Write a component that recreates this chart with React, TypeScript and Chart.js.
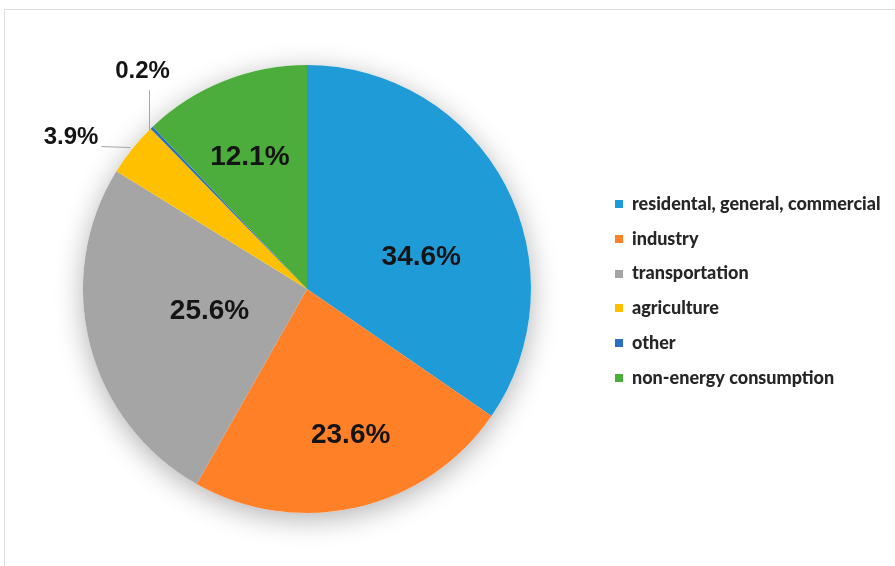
import React, { useEffect, useRef } from "react";
import { Chart, registerables } from "chart.js";

Chart.register(...registerables);

const categories = [
  "residental, general, commercial",
  "industry",
  "transportation",
  "agriculture",
  "other",
  "non-energy consumption",
];
const shares = [34.6, 23.6, 25.6, 3.9, 0.2, 12.1];
const sliceColors = ["#1F9BD7", "#FF8027", "#A5A5A5", "#FFC000", "#2A6EC2", "#4CAD3C"];

// label placement style (polar nudges relative to each slice's mid-angle)
const labelStyle = [
  { mode: "in", r: 0.53, da: 12 },
  { mode: "in", r: 0.68, da: -3.7 },
  { mode: "in", r: 0.446, da: 1.7 },
  { mode: "left", r: 1.01, da: 0 },
  { mode: "up", r: 1.0, da: -1 },
  { mode: "in", r: 0.64, da: -1.7 },
];

const framePlugin = {
  id: "frame",
  beforeDraw(chart: any) {
    const ctx = chart.ctx;
    ctx.save();
    ctx.fillStyle = "#ffffff";
    ctx.fillRect(0, 0, chart.width, chart.height);
    ctx.strokeStyle = "#dedede";
    ctx.lineWidth = 1;
    ctx.strokeRect(4.5, 9.5, chart.width + 20, chart.height + 20);
    ctx.restore();
  },
};

const shadowPlugin = {
  id: "pieShadow",
  beforeDatasetsDraw(chart: any) {
    const meta = chart.getDatasetMeta(0);
    const arc = meta.data[0];
    if (!arc) return;
    const ctx = chart.ctx;
    ctx.save();
    ctx.shadowColor = "rgba(0,0,0,0.3)";
    ctx.shadowBlur = 28;
    ctx.shadowOffsetY = 6;
    ctx.fillStyle = "#ffffff";
    ctx.beginPath();
    ctx.arc(arc.x, arc.y, arc.outerRadius, 0, Math.PI * 2);
    ctx.fill();
    ctx.restore();
  },
};

const labelPlugin = {
  id: "pctLabels",
  afterDatasetsDraw(chart: any) {
    const meta = chart.getDatasetMeta(0);
    const ctx = chart.ctx;
    const data = chart.data.datasets[0].data as number[];
    ctx.save();
    meta.data.forEach((arc: any, i: number) => {
      const st = labelStyle[i];
      const text = data[i].toFixed(1) + "%";
      const mid = (arc.startAngle + arc.endAngle) / 2 + (st.da * Math.PI) / 180;
      const R = arc.outerRadius * st.r;
      const px = arc.x + R * Math.cos(mid);
      const py = arc.y + R * Math.sin(mid);
      ctx.fillStyle = "#141414";
      if (st.mode === "in") {
        ctx.font = "bold 28px 'Liberation Sans', Arial, sans-serif";
        ctx.textAlign = "center";
        ctx.textBaseline = "middle";
        ctx.fillText(text, px, py);
      } else if (st.mode === "left") {
        ctx.strokeStyle = "#a6a6a6";
        ctx.lineWidth = 1;
        ctx.beginPath();
        ctx.moveTo(px, py);
        ctx.lineTo(px - 29, py - 1);
        ctx.stroke();
        ctx.font = "bold 24px 'Liberation Sans', Arial, sans-serif";
        ctx.textAlign = "right";
        ctx.textBaseline = "middle";
        ctx.fillText(text, px - 32, py - 10);
      } else {
        ctx.strokeStyle = "#a6a6a6";
        ctx.lineWidth = 1;
        const lx = Math.round(px) + 0.5;
        ctx.beginPath();
        ctx.moveTo(lx, py);
        ctx.lineTo(lx, py - 40);
        ctx.stroke();
        ctx.font = "bold 24px 'Liberation Sans', Arial, sans-serif";
        ctx.textAlign = "center";
        ctx.textBaseline = "middle";
        ctx.fillText(text, lx - 7, py - 59);
      }
    });
    ctx.restore();
  },
};

const legendPlugin = {
  id: "sideLegend",
  afterDraw(chart: any) {
    const ctx = chart.ctx;
    const labels = chart.data.labels as string[];
    const cols = chart.data.datasets[0].backgroundColor as string[];
    ctx.save();
    ctx.font = "900 18px Lato, 'Open Sans', sans-serif";
    ctx.textAlign = "left";
    ctx.textBaseline = "middle";
    labels.forEach((lab, i) => {
      const y = 204 + i * 34.8;
      ctx.fillStyle = cols[i];
      ctx.fillRect(615, Math.round(y - 4), 8, 8);
      ctx.fillStyle = "#262626";
      ctx.fillText(lab, 632, y);
    });
    ctx.restore();
  },
};

export default function App() {
  const ref = useRef<HTMLCanvasElement | null>(null);
  useEffect(() => {
    document.body.style.margin = "0";
    if (!ref.current) return;
    const chart = new Chart(ref.current, {
      type: "pie",
      data: {
        labels: categories,
        datasets: [
          {
            data: shares,
            backgroundColor: sliceColors,
            borderWidth: 0,
          },
        ],
      },
      options: {
        responsive: false,
        animation: false,
        layout: { padding: { left: 83, top: 65, right: 364, bottom: 53 } },
        plugins: {
          legend: { display: false },
          tooltip: { enabled: false },
        },
      },
      plugins: [framePlugin, shadowPlugin, labelPlugin, legendPlugin],
    });
    return () => chart.destroy();
  }, []);
  return (
    <div style={{ position: "fixed", left: 0, top: 0, width: 895, height: 566 }}>
      <canvas ref={ref} width={895} height={566} style={{ display: "block" }} />
    </div>
  );
}
